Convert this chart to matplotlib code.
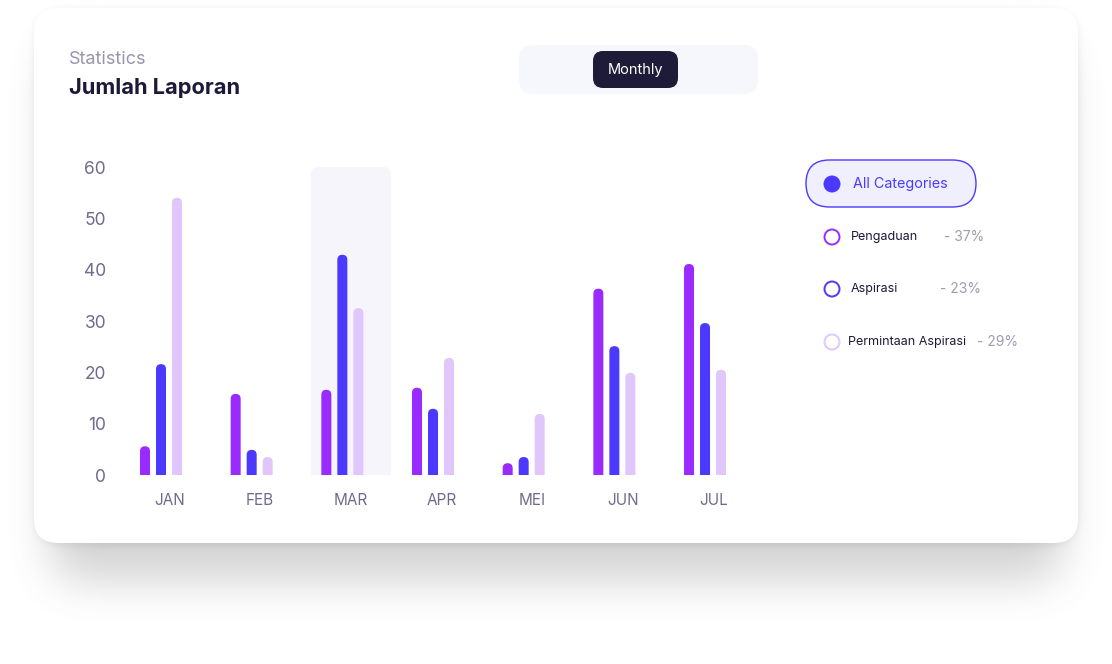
import numpy as np
import matplotlib
matplotlib.use("Agg")
import matplotlib.pyplot as plt
from matplotlib.patches import FancyBboxPatch, Circle

plt.rcParams["font.family"] = ["Inter", "DejaVu Sans"]

# ---- data ----
months = ["JAN", "FEB", "MAR", "APR", "MEI", "JUN", "JUL"]
pengaduan = [5.6, 15.8, 16.6, 17.0, 2.3, 36.3, 41.1]
aspirasi = [21.6, 4.9, 42.9, 12.9, 3.5, 25.1, 29.6]
permintaan = [54.0, 3.5, 32.5, 22.8, 11.9, 19.9, 20.5]
series_names = ["Pengaduan", "Aspirasi", "Permintaan Aspirasi"]
series_pct = ["- 37%", "- 23%", "- 29%"]
yticks = [0, 10, 20, 30, 40, 50, 60]
highlight_month = "MAR"

PURPLE = "#9a2bff"
BLUE = "#4b39ff"
LIGHT = "#e0c6fb"
DARK = "#1c1a38"
AXIS_TXT = "#6e6b8c"

W, H = 1112, 664
fig = plt.figure(figsize=(W / 100, H / 100), dpi=100)
fig.patch.set_facecolor("white")

# background / decoration axes in pixel coordinates
bg = fig.add_axes([0, 0, 1, 1])
bg.set_xlim(0, W)
bg.set_ylim(H, 0)
bg.axis("off")

# card shadow: blurred rounded mask
def rounded_mask(x0, y0, x1, y1, r):
    yy, xx = np.mgrid[0:H, 0:W]
    m = (xx >= x0) & (xx <= x1) & (yy >= y0) & (yy <= y1)
    for cx, cy in [(x0 + r, y0 + r), (x1 - r, y0 + r), (x0 + r, y1 - r), (x1 - r, y1 - r)]:
        corner = ((xx < x0 + r) if cx == x0 + r else (xx > x1 - r)) & \
                 ((yy < y0 + r) if cy == y0 + r else (yy > y1 - r))
        m &= ~corner | ((xx - cx) ** 2 + (yy - cy) ** 2 <= r * r)
    return m.astype(float)

def box_blur(a, k, axis):
    pad = [(0, 0), (0, 0)]
    pad[axis] = (k + 1, k)
    c = np.cumsum(np.pad(a, pad), axis=axis)
    n = a.shape[axis]
    hi = np.take(c, np.arange(2 * k + 1, 2 * k + 1 + n), axis=axis)
    lo = np.take(c, np.arange(0, n), axis=axis)
    return (hi - lo) / (2 * k + 1)

sh = rounded_mask(50, 45, 1062, 580, 30)
for _ in range(3):
    sh = box_blur(sh, 20, 0)
    sh = box_blur(sh, 20, 1)
sh2 = rounded_mask(34, 9, 1078, 545, 24)
for _ in range(3):
    sh2 = box_blur(sh2, 3, 0)
    sh2 = box_blur(sh2, 3, 1)
shadow = np.clip(0.26 * sh + 0.10 * sh2, 0, 1)
rgba = np.zeros((H, W, 4))
rgba[..., :3] = 0.35
rgba[..., 3] = shadow
bg.imshow(rgba, extent=(0, W, H, 0), interpolation="bilinear", zorder=0)

card = FancyBboxPatch((34, 8), 1044, 535, boxstyle="round,pad=0,rounding_size=24",
                      fc="white", ec="none", zorder=1)
bg.add_patch(card)

# header
bg.text(69, 59.5, "Statistics", fontsize=13, color="#9896ad", va="center", ha="left", zorder=2)
bg.text(69, 87.5, "Jumlah Laporan", fontsize=15.7, color=DARK, fontweight="bold",
        va="center", ha="left", zorder=2)

# period toggle
bg.add_patch(FancyBboxPatch((519, 45), 239, 49, boxstyle="round,pad=0,rounding_size=14",
                            fc="#f6f7fd", ec="none", zorder=2))
bg.add_patch(FancyBboxPatch((593, 51), 85, 37, boxstyle="round,pad=0,rounding_size=10",
                            fc="#1e1b39", ec="none", zorder=3))
bg.text(635.5, 70, "Monthly", fontsize=10.5, color="white", ha="center", va="center", zorder=4)

# legend
bg.add_patch(FancyBboxPatch((806, 160), 170, 47, boxstyle="round,pad=0,rounding_size=23.5",
                            fc="#efeffe", ec=BLUE, lw=1.0, zorder=2))
bg.add_patch(Circle((832, 184), 8.5, fc=BLUE, ec="none", zorder=3))
bg.text(853, 184, "All Categories", fontsize=10.3, color=BLUE, ha="left", va="center", zorder=3)

leg_colors = [PURPLE, BLUE, LIGHT]
leg_y = [237, 289, 342]
leg_tx = [851, 851, 848]
pct_x = [944, 940, 977]
for name, pct, col, y, tx, px in zip(series_names, series_pct, leg_colors, leg_y, leg_tx, pct_x):
    bg.add_patch(Circle((832, y), 7.5, fc="white", ec=col, lw=1.4, zorder=3))
    bg.text(tx, y, name, fontsize=9, color=DARK, ha="left", va="center", zorder=3)
    bg.text(px, y, pct, fontsize=10, color="#9f9cb0", ha="left", va="center", zorder=3)

# ---- chart ----
left, right, top, bottom = 120, 760, 167, 475
ax = fig.add_axes([left / W, 1 - bottom / H, (right - left) / W, (bottom - top) / H])
ax.set_facecolor("none")
ax.set_zorder(2)

px_per_unit_x = 90.67
x0_label = 169.5
ax.set_xlim((left - x0_label) / px_per_unit_x, (right - x0_label) / px_per_unit_x)
ax.set_ylim(0, 60)

x = np.arange(len(months))
bar_w = 10 / px_per_unit_x
offsets = [-24.5 / px_per_unit_x, -8.5 / px_per_unit_x, 7.5 / px_per_unit_x]
px_per_unit_y = (bottom - top) / 60
aspect = (1 / px_per_unit_y) / (1 / px_per_unit_x)

# highlighted month column
hi = months.index(highlight_month)
hw = 80 / px_per_unit_x
ax.add_patch(FancyBboxPatch((hi - hw / 2, -3), hw, 63,
                            boxstyle=f"round,pad=0,rounding_size={8 / px_per_unit_x}",
                            mutation_aspect=aspect, fc="#f6f5fb", ec="none", zorder=1))

for vals, col, off in zip([pengaduan, aspirasi, permintaan], leg_colors, offsets):
    for xi, v in zip(x, vals):
        ax.add_patch(FancyBboxPatch((xi + off - bar_w / 2, -2), bar_w, v + 2,
                                    boxstyle=f"round,pad=0,rounding_size={5 / px_per_unit_x}",
                                    mutation_aspect=aspect, fc=col, ec="none", zorder=2))

ax.set_yticks(yticks)
ax.set_xticks(x)
ax.set_xticklabels(months)
ax.tick_params(axis="y", length=0, pad=10, labelsize=12.5, labelcolor=AXIS_TXT)
ax.tick_params(axis="x", length=0, pad=13, labelsize=11, labelcolor=AXIS_TXT)
for lbl in ax.get_xticklabels():
    lbl.set_fontstretch("expanded")
for s in ax.spines.values():
    s.set_visible(False)

fig.savefig("out.png", dpi=100, facecolor="white")
